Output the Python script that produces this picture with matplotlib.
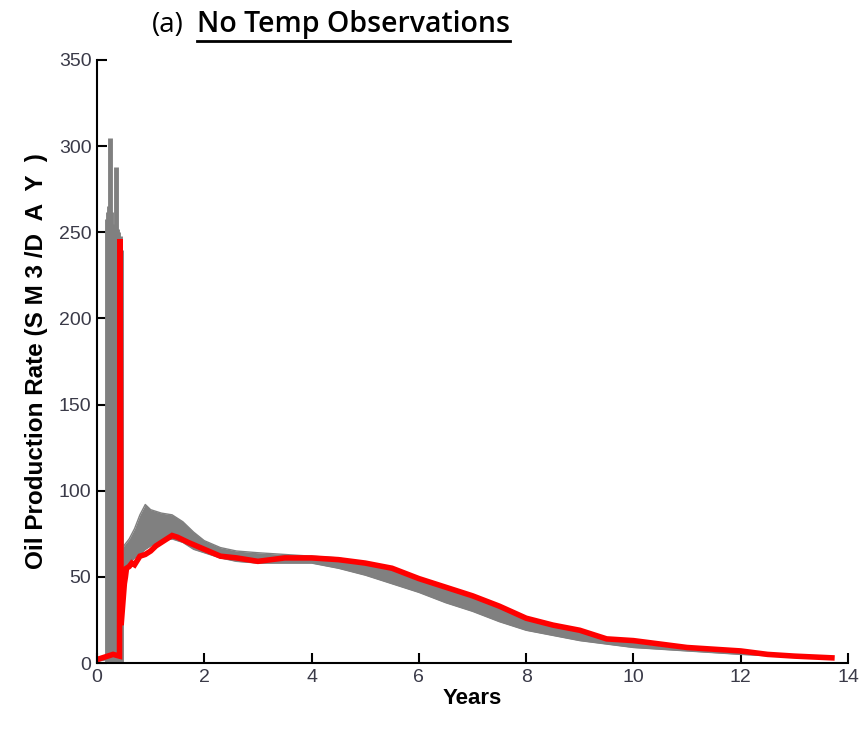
import numpy as np
import matplotlib.pyplot as plt
from matplotlib.lines import Line2D

# 红线：观测/参考生产曲线 (years, SM3/DAY)
red_t = [0.0, 0.1, 0.2, 0.3, 0.42, 0.43, 0.45, 0.47, 0.49, 0.51, 0.53, 0.55, 0.6, 0.65,
         0.7, 0.8, 0.9, 1.0, 1.1, 1.2, 1.3, 1.4, 1.5, 1.7, 2.0, 2.3, 2.6, 3.0, 3.5,
         4.0, 4.5, 5.0, 5.5, 6.0, 6.5, 7.0, 7.5, 8.0, 8.5, 9.0, 9.5, 10.0, 10.5,
         11.0, 11.5, 12.0, 12.5, 13.0, 13.7]
red_v = [2, 3, 4, 5, 4, 246, 22, 30, 38, 46, 50, 55, 56, 58, 57, 62, 63, 65, 68, 70,
         72, 74, 73, 70, 66, 62, 61, 59, 61, 61, 60, 58, 55, 49, 44, 39, 33, 26, 22,
         19, 14, 13, 11, 9, 8, 7, 5, 4, 3]

# 灰色集合（多个实现）的上下包络
band_t = [0.0, 0.18, 0.45, 0.5, 0.6, 0.7, 0.8, 0.9, 1.0, 1.2, 1.4, 1.6, 1.8, 2.0, 2.3,
          2.6, 3.0, 3.5, 4.0, 4.5, 5.0, 5.5, 6.0, 6.5, 7.0, 7.5, 8.0, 8.5, 9.0, 9.5,
          10.0, 10.5, 11.0, 12.0, 13.0, 13.7]
band_upper = [3, 4, 66, 68, 72, 78, 86, 92, 89, 87, 86, 82, 76, 71, 67, 65, 64, 63, 62,
              61, 58, 55, 49, 44, 38, 32, 26, 22, 18, 14, 12, 10, 8, 6, 4, 3]
band_lower = [1, 2, 55, 56, 58, 61, 63, 66, 68, 71, 72, 70, 66, 64, 61, 59, 58, 58, 58,
              55, 51, 46, 41, 35, 30, 24, 19, 16, 13, 11, 9, 8, 7, 5, 3.5, 2.5]

# 早期的灰色尖峰
spike_t = [0.18, 0.20, 0.22, 0.24, 0.26, 0.28, 0.30, 0.32, 0.34, 0.36, 0.38, 0.40, 0.42, 0.44]
spike_top = [258, 262, 265, 305, 262, 255, 235, 228, 230, 288, 252, 250, 248, 240]

plt.rcParams['font.family'] = ['Liberation Sans', 'DejaVu Sans']

fig = plt.figure(figsize=(8.64, 7.30), dpi=100)
ax = fig.add_axes([97 / 864, 1 - 663 / 730, 751 / 864, 603 / 730])

gray = '#808080'
ax.fill_between(band_t, band_lower, band_upper, color=gray, lw=0)
ax.plot(band_t, band_upper, color=gray, lw=1)
ax.plot(band_t, band_lower, color=gray, lw=1)
ax.vlines(spike_t, 0, spike_top, color=gray, lw=3.5)
ax.plot(red_t, red_v, color='#ff0000', lw=4, solid_joinstyle='miter')

ax.set_xlim(0, 14)
ax.set_ylim(0, 350)
ax.set_xticks(range(0, 15, 2))
ax.set_yticks(range(0, 351, 50))
for s in ['top', 'right']:
    ax.spines[s].set_visible(False)
for s in ['left', 'bottom']:
    ax.spines[s].set_linewidth(1.5)
ax.tick_params(direction='in', length=7, width=1.5, labelsize=14,
               labelcolor='#3a3a48', pad=4)
ax.set_xlabel('Years', fontsize=16, fontweight='bold', labelpad=2)
ax.set_ylabel('Oil Production Rate (S M 3 /D  A  Y  )', fontsize=17.5,
              fontweight='bold', labelpad=8)

# 标题：(a) + 下划线部分
fig.text(152 / 864, 1 - 32 / 730, '(a)', fontsize=20, family=['Open Sans', 'DejaVu Sans'],
         va='baseline', ha='left')
t2 = fig.text(197 / 864, 1 - 32 / 730, 'No Temp Observations', fontsize=20.5,
              family=['Open Sans', 'DejaVu Sans'], fontweight='semibold',
              va='baseline', ha='left')
fig.canvas.draw()
bb = t2.get_window_extent().transformed(fig.transFigure.inverted())
y_ul = 1 - 41 / 730
fig.add_artist(Line2D([bb.x0, bb.x1], [y_ul, y_ul], transform=fig.transFigure,
                      color='black', lw=2))

fig.savefig('out.png', dpi=100)
